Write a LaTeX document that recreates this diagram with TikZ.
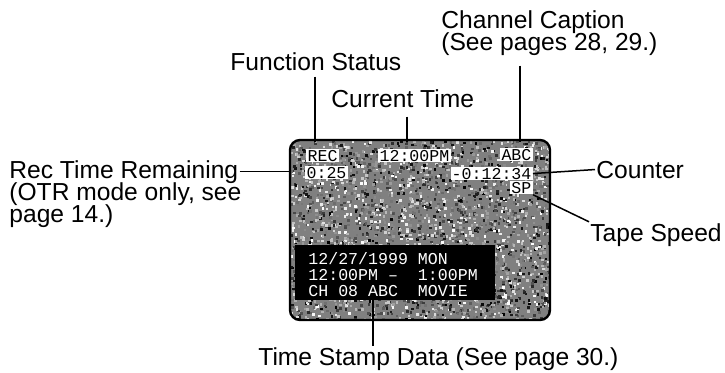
\documentclass[tikz,border=0pt]{standalone}
\usepackage{fontspec}
\setmainfont{Liberation Sans}
\newfontfamily\osdfont{Liberation Mono}
\usetikzlibrary{positioning}

\begin{document}
\begin{tikzpicture}[
  x=0.5pt, y=-0.5pt,
  label/.style={font=\fontsize{12.3}{11}\selectfont, inner sep=0.5pt, align=left, anchor=base west},
  osd/.style={font=\osdfont\fontsize{8.3}{10}\selectfont, fill=white, inner sep=0.6pt},
  stamp/.style={font=\osdfont\fontsize{8.3}{8}\selectfont, text=white, inner sep=0pt, anchor=base west},
  leader/.style={line width=0.75pt}
]
  \useasboundingbox (0,0) rectangle (725,372);
  % speckled picture on the screen
  \begin{scope}
    \clip[rounded corners=5pt] (290,140) rectangle (550,320);
    \fill[black!50] (290,140) rectangle (550,320);
    \pgfmathsetseed{29}
    \foreach \k in {1,...,3200}{
      \pgfmathsetmacro\px{290+260*rnd}
      \pgfmathsetmacro\py{140+180*rnd}
      \pgfmathsetmacro\sh{round(100*rnd)}
      \fill[black!\sh] (\px,\py) rectangle ++(2.5,2.5);
    }
  \end{scope}
  \node[draw, line width=1.2pt, rounded corners=5pt, minimum width=130pt, minimum height=90pt] (screen) at (420,230) {};

  % on-screen display
  \node[osd, anchor=base west] (rec) at (306,161) {REC};
  \node[osd, anchor=base west] (curclock) at (378,161) {12:00PM};
  \node[osd, anchor=base east] (chname) at (533,160) {ABC};
  \node[osd, anchor=base west] (remain) at (305,178) {0:25};
  \node[osd, anchor=base east] (ctr) at (533,179) {-0:12:34};
  \node[osd, anchor=base east] (speed) at (533,193) {SP};

  % time stamp block
  \node[fill=black, inner sep=0pt, minimum width=100pt, minimum height=27.5pt] (stampbox) at (395,272.5) {};
  \node[stamp] (stampdate) at (308,264) {12/27/1999 MON};
  \node[stamp] (stamptime) at (308,280) {12:00PM –~~1:00PM};
  \node[stamp] (stampprog) at (308,296) {CH 08 ABC~~MOVIE};

  % labels
  \node[label] (funcstatus) at (229,70) {Function Status};
  \node[label] (curtime) at (330,107) {Current Time};
  \node[label] (chcaption) at (440,28) {Channel Caption};
  \node[label] (chcaptionref) at (440,50) {(See pages 28, 29.)};
  \node[label] (rectime) at (8,178) {Rec Time Remaining};
  \node[label] (rectimenote) at (8,200) {(OTR mode only, see};
  \node[label] (rectimepage) at (8,222) {page 14.)};
  \node[label] (counter) at (595,178) {Counter};
  \node[label] (tapespeed) at (589,241) {Tape Speed};
  \node[label] (stampdata) at (257,365) {Time Stamp Data (See page 30.)};

  \coordinate (fsmark) at (315,142);
  \coordinate (ctmark) at (407,142);
  \coordinate (ccmark) at (520,142);
  \coordinate (tsmark) at (373,300);

  \draw[leader, shorten <=2.5pt] (funcstatus.south -| fsmark) -- (fsmark);
  \draw[leader, shorten <=4pt] (curtime.south -| ctmark) -- (ctmark);
  \draw[leader, shorten <=4.5pt] (chcaptionref.south -| ccmark) -- (ccmark);
  \draw[leader] (rectime.east) -- (rectime.east -| screen.west);
  \draw[leader] (counter.west) -- (ctr.east);
  \draw[leader] (speed.south east) -- (tapespeed.north west);
  \draw[leader] (tsmark) -- (stampdata.north -| tsmark);
\end{tikzpicture}
\end{document}
